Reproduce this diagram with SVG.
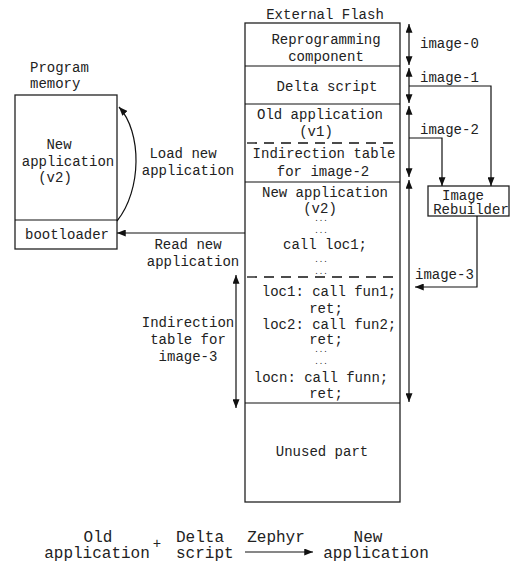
<svg xmlns="http://www.w3.org/2000/svg" width="511" height="564" viewBox="0 0 511 564">
<style>
text{font-family:"Liberation Mono","DejaVu Sans Mono",monospace;font-size:14px;fill:#222}
.m{text-anchor:middle}
.s{text-anchor:start}
.big{font-size:16px}
.dots{font-size:7.5px}
.box{fill:#fff;stroke:#222;stroke-width:1.3}
.ln{fill:none;stroke:#111;stroke-width:1.2}
.dash{fill:none;stroke:#111;stroke-width:1.3;stroke-dasharray:10,7}
</style>
<defs>
<marker id="ah" viewBox="0 0 10 8" refX="10" refY="4" markerWidth="9" markerHeight="7" orient="auto-start-reverse" markerUnits="userSpaceOnUse">
<path d="M0,0 L10,4 L0,8 z" fill="#111"/>
</marker>
</defs>

<g id="external-flash">
<text class="m" x="325" y="19">External Flash</text>
<rect class="box" x="245" y="23" width="155" height="479"/>
<line class="ln" x1="245" y1="66" x2="400" y2="66"/>
<line class="ln" x1="245" y1="104" x2="400" y2="104"/>
<line class="dash" x1="247" y1="143" x2="398" y2="143"/>
<line class="ln" x1="245" y1="182" x2="400" y2="182"/>
<line class="dash" x1="247" y1="277" x2="398" y2="277"/>
<line class="ln" x1="245" y1="403" x2="400" y2="403"/>
<text class="m" x="326" y="44">Reprogramming</text>
<text class="m" x="326" y="61">component</text>
<text class="m" x="327" y="91">Delta script</text>
<text class="m" x="320" y="119">Old application</text>
<text class="m" x="316" y="136">(v1)</text>
<text class="m" x="324" y="158">Indirection table</text>
<text class="m" x="323" y="176">for image-2</text>
<text class="m" x="325" y="197">New application</text>
<text class="m" x="320" y="213">(v2)</text>
<text class="m dots" x="321" y="221">...</text>
<text class="m dots" x="321" y="233">...</text>
<text class="m" x="325" y="249">call loc1;</text>
<text class="m dots" x="321" y="262">...</text>
<text class="m dots" x="321" y="274">...</text>
<text class="m" x="329" y="296">loc1: call fun1;</text>
<text class="m" x="326" y="313">ret;</text>
<text class="m" x="329" y="329">loc2: call fun2;</text>
<text class="m" x="326" y="344">ret;</text>
<text class="m dots" x="321" y="352">...</text>
<text class="m dots" x="321" y="364">...</text>
<text class="m" x="321" y="382">locn: call funn;</text>
<text class="m" x="326" y="398">ret;</text>
<text class="m" x="322" y="456">Unused part</text>
</g>

<g id="program-memory">
<text class="s" x="30" y="72">Program</text>
<text class="s" x="30" y="88">memory</text>
<rect class="box" x="15" y="95" width="102" height="154"/>
<line class="ln" x1="15" y1="220" x2="117" y2="220"/>
<text class="m" x="59" y="149">New</text>
<text class="m" x="68" y="166">application</text>
<text class="m" x="55" y="182">(v2)</text>
<text class="m" x="67" y="239">bootloader</text>
</g>

<g id="image-rebuilder">
<rect class="box" x="428" y="186" width="81" height="30"/>
<text class="m" x="463" y="200">Image</text>
<text class="m" x="471" y="214">Rebuilder</text>
</g>

<g id="connectors">
<line class="ln" x1="409" y1="24" x2="409" y2="65" marker-start="url(#ah)" marker-end="url(#ah)"/>
<line class="ln" x1="409" y1="68" x2="409" y2="103" marker-start="url(#ah)" marker-end="url(#ah)"/>
<line class="ln" x1="409" y1="106" x2="409" y2="177" marker-start="url(#ah)" marker-end="url(#ah)"/>
<line class="ln" x1="409" y1="180" x2="409" y2="402" marker-start="url(#ah)" marker-end="url(#ah)"/>
<polyline class="ln" points="409,86 491,86 491,186" marker-end="url(#ah)"/>
<polyline class="ln" points="409,138 442,138 442,186" marker-end="url(#ah)"/>
<polyline class="ln" points="477,216 477,287 415,287" marker-end="url(#ah)"/>
<line class="ln" x1="245" y1="233" x2="117" y2="233" marker-end="url(#ah)"/>
<path class="ln" d="M117,221 C142,190 142,132 119,107" marker-end="url(#ah)"/>
<line class="ln" x1="236" y1="275" x2="236" y2="408" marker-start="url(#ah)" marker-end="url(#ah)"/>
<line class="ln" x1="245" y1="552" x2="313" y2="552" marker-end="url(#ah)"/>
</g>

<g id="labels">
<text class="s" x="420" y="48">image-0</text>
<text class="s" x="420" y="82">image-1</text>
<text class="s" x="420" y="134">image-2</text>
<text class="s" x="415" y="279">image-3</text>
<text class="m" x="183" y="158">Load new</text>
<text class="m" x="188" y="175">application</text>
<text class="m" x="188" y="249">Read new</text>
<text class="m" x="193" y="266">application</text>
<text class="m" x="188" y="327">Indirection</text>
<text class="m" x="188" y="344">table for</text>
<text class="m" x="188" y="361">image-3</text>
</g>

<g id="formula">
<text class="m big" x="98" y="542">Old</text>
<text class="m big" x="97" y="558">application</text>
<text class="m" x="157" y="548">+</text>
<text class="s big" x="176" y="542">Delta</text>
<text class="s big" x="176" y="558">script</text>
<text class="m big" x="276" y="542">Zephyr</text>
<text class="m big" x="368" y="542">New</text>
<text class="m big" x="376" y="558">application</text>
</g>
</svg>
